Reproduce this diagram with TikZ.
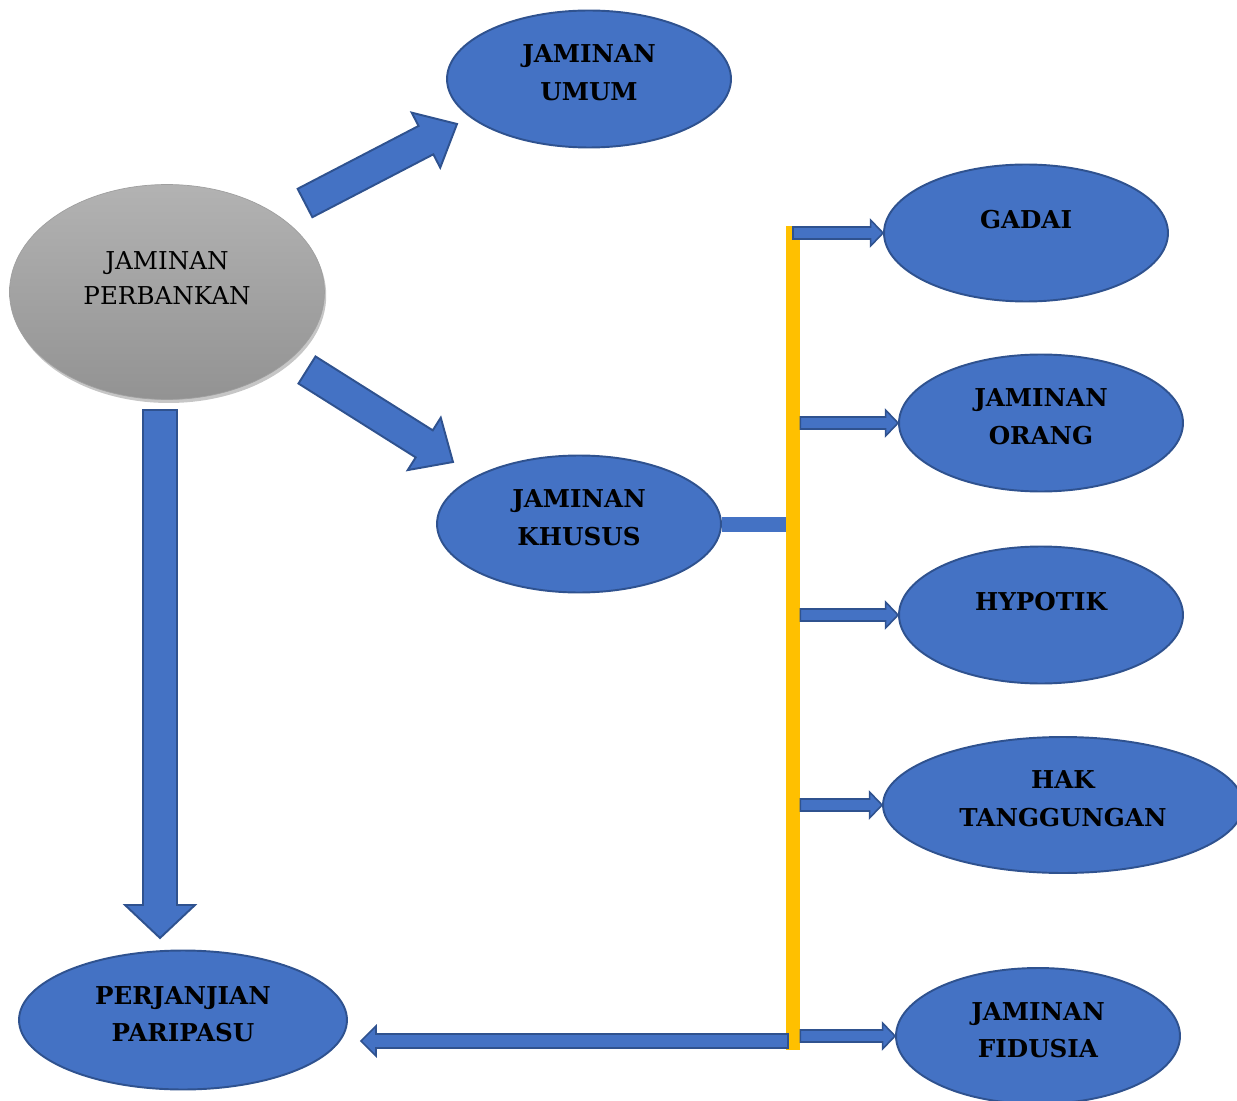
\documentclass[tikz,border=0pt]{standalone}
\usepackage{fontspec}
\setmainfont{DejaVu Serif}
\usepackage{tikz}
\usetikzlibrary{shapes,calc,shadows}

\definecolor{boxblue}{HTML}{4472C4}
\definecolor{boxedge}{HTML}{2F528F}
\definecolor{baryellow}{HTML}{FFC000}

% block arrow: tail, tip, half shaft, half head, head length
\newcommand{\blockarrow}[6][arrowbox]{%
  \coordinate (hb) at ($(#3)!#6!(#2)$);
  \draw[#1] ($(#2)!#4!90:(#3)$) -- ($(hb)!#4!90:(#3)$) -- ($(hb)!#5!90:(#3)$)
    -- (#3) -- ($(hb)!#5!-90:(#3)$) -- ($(hb)!#4!-90:(#3)$) -- ($(#2)!#4!-90:(#3)$) -- cycle;}

\begin{document}
\begin{tikzpicture}[
    x=0.02cm, y=-0.02cm,
    bluenode/.style={ellipse, draw=boxedge, line width=1.1pt, fill=boxblue,
        minimum width=5.68cm, minimum height=2.74cm, inner sep=0pt, align=center,
        text depth=0.24cm, font=\fontsize{14}{21.6}\selectfont\bfseries},
    graynode/.style={ellipse, draw=gray!75, top color=gray!60, bottom color=gray!85,
        drop shadow={shadow xshift=1pt, shadow yshift=-2pt, opacity=0.45},
        minimum width=6.3cm, minimum height=4.3cm, inner sep=0pt, align=center,
        text depth=0.56cm, font=\fontsize{14}{20}\selectfont},
    arrowbox/.style={draw=boxedge, line width=1.1pt, fill=boxblue, line join=miter},
    smallarrow/.style={draw=boxedge, line width=0.9pt, fill=boxblue, line join=miter}
]
    \useasboundingbox (0,0) rectangle (1237,1101);

    % nodes
    \node[graynode] (bank) at (167,292) {JAMINAN\\PERBANKAN};
    \node[bluenode] (umum) at (589,79) {JAMINAN\\UMUM};
    \node[bluenode] (khusus) at (579,524) {JAMINAN\\KHUSUS};
    \node[bluenode, minimum width=6.56cm, minimum height=2.78cm] (pari) at (183,1020) {PERJANJIAN\\PARIPASU};
    \node[bluenode, text depth=0.56cm] (gadai) at (1026,233) {GADAI};
    \node[bluenode] (orang) at (1041,423) {JAMINAN\\ORANG};
    \node[bluenode, text depth=0.56cm] (hypotik) at (1041,615) {HYPOTIK};
    \node[bluenode, minimum width=7.2cm, minimum height=2.72cm] (hak) at (1063,805) {HAK\\TANGGUNGAN};
    \node[bluenode, minimum height=2.72cm] (fidusia) at (1038,1036) {JAMINAN\\FIDUSIA};

    % yellow bar and link from khusus
    \node[fill=baryellow, minimum width=0.28cm, minimum height=16.48cm, inner sep=0pt] (bar) at (793,638) {};
    \draw[boxblue, line width=0.3cm] (khusus.east) -- (khusus.east -| bar.west);

    % big arrows
    \coordinate (uptail) at (305,203);
    \coordinate (uptip) at (457,124);
    \coordinate (downtail) at (307,370);
    \coordinate (downtip) at (453,462);
    \coordinate (vtail) at (160,410);
    \coordinate (vtip) at (160,938);
    \coordinate (lefttail) at (788,1041);
    \coordinate (lefttip) at (361,1041);
    \blockarrow{uptail}{uptip}{0.32cm}{0.62cm}{0.7cm}
    \blockarrow{downtail}{downtip}{0.32cm}{0.62cm}{0.68cm}
    \blockarrow{vtail}{vtip}{0.34cm}{0.7cm}{0.66cm}
    \blockarrow[smallarrow]{lefttail}{lefttip}{0.14cm}{0.3cm}{0.3cm}

    % arrows from the bar
    \coordinate (t1) at (bar.center |- gadai.west);
    \coordinate (t2) at (bar.east |- orang.west);
    \coordinate (t3) at (bar.east |- hypotik.west);
    \coordinate (t4) at (bar.east |- hak.west);
    \coordinate (t5) at (bar.east |- fidusia.west);
    \blockarrow[smallarrow]{t1}{gadai.west}{0.12cm}{0.26cm}{0.25cm}
    \blockarrow[smallarrow]{t2}{orang.west}{0.12cm}{0.26cm}{0.25cm}
    \blockarrow[smallarrow]{t3}{hypotik.west}{0.12cm}{0.26cm}{0.25cm}
    \blockarrow[smallarrow]{t4}{hak.west}{0.12cm}{0.26cm}{0.25cm}
    \blockarrow[smallarrow]{t5}{fidusia.west}{0.12cm}{0.26cm}{0.25cm}
\end{tikzpicture}
\end{document}
